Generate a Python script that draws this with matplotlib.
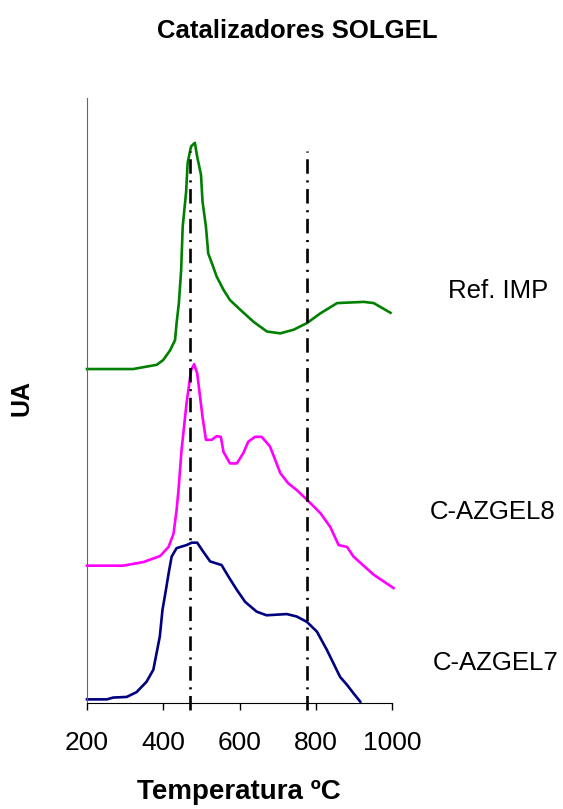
import matplotlib
matplotlib.use('Agg')
import matplotlib.pyplot as plt

plt.rcParams['font.family'] = ['Liberation Sans', 'DejaVu Sans']

# Ref. IMP (verde)
t_ref = [200, 321, 356, 383, 400, 418, 431, 435, 441, 447, 451, 460, 464, 473, 483,
         489, 499, 503, 512, 518, 531, 540, 558, 575, 602, 637, 672, 707, 742, 777,
         812, 856, 926, 952, 996]
ua_ref = [55.2, 55.2, 55.6, 55.9, 56.7, 58.3, 60.0, 62.8, 66.1, 71.6, 78.7, 84.5, 89.3, 92.0, 92.6,
          90.3, 87.3, 82.9, 78.7, 74.3, 72.1, 70.5, 68.3, 66.6, 65.0, 63.0, 61.4, 61.1, 61.7, 62.8,
          64.4, 66.1, 66.3, 66.1, 64.5]

# C-AZGEL8 (magenta)
t_gel8 = [200, 295, 348, 392, 414, 427, 435, 440, 448, 461, 473, 481, 489, 503, 512, 527,
          540, 551, 558, 575, 593, 610, 623, 641, 658, 680, 707, 728, 750, 777, 812, 838,
          860, 882, 899, 952, 1004]
ua_gel8 = [22.7, 22.7, 23.3, 24.3, 25.8, 28.0, 31.9, 35.2, 41.8, 49.5, 55.0, 56.0, 54.5, 47.3, 43.5, 43.5,
           44.1, 44.0, 41.5, 39.6, 39.6, 41.3, 43.2, 44.0, 44.0, 42.4, 38.0, 36.3, 35.2, 33.6, 31.4, 29.1,
           26.1, 25.8, 24.2, 21.2, 19.0]

# C-AZGEL7 (azul marino)
t_gel7 = [200, 252, 269, 304, 330, 356, 374, 391, 398, 407, 414, 422, 435, 461, 475, 489,
          505, 523, 553, 571, 593, 615, 645, 671, 724, 750, 777, 803, 829, 864, 882, 899, 917]
ua_gel7 = [0.6, 0.6, 0.9, 1.0, 1.8, 3.5, 5.5, 11.0, 15.4, 18.7, 21.4, 24.2, 25.6, 26.1, 26.5, 26.5,
           25.0, 23.4, 22.8, 20.9, 18.7, 16.7, 15.1, 14.5, 14.7, 14.3, 13.4, 11.8, 8.8, 4.3, 3.0, 1.6, 0.2]

picos = [470, 777]
xticks = [200, 400, 600, 800, 1000]

W, H = 563, 809
fig = plt.figure(figsize=(W / 100, H / 100), dpi=100)
ax = fig.add_axes([87 / W, 1 - 703 / H, 305 / W, 605 / H])

ax.plot(t_ref, ua_ref, color='#008000', lw=1.9, clip_on=False)
ax.plot(t_gel8, ua_gel8, color='#FF00FF', lw=1.9, clip_on=False)
ax.plot(t_gel7, ua_gel7, color='#000080', lw=1.9, clip_on=False)

for p in picos:
    ax.plot([p, p], [-1.2, 91.2], color='black', lw=1.9,
            dashes=(5.5, 2.5, 0.8, 2.5), clip_on=False)

ax.set_xlim(200, 1000)
ax.set_ylim(0, 100)
ax.set_xticks(xticks)
ax.set_yticks([])
ax.tick_params(axis='x', direction='out', length=5, width=1, pad=15, labelsize=19)
ax.spines['top'].set_visible(False)
ax.spines['right'].set_visible(False)
ax.spines['left'].set_color('#666666')
ax.spines['bottom'].set_color('black')

fig.text(297 / W, 1 - 31 / H, 'Catalizadores SOLGEL', ha='center', va='center',
         fontsize=18.5, fontweight='bold')
fig.text(239 / W, 1 - 792 / H, 'Temperatura ºC', ha='center', va='center',
         fontsize=20, fontweight='bold')
fig.text(22 / W, 1 - 398 / H, 'UA', ha='center', va='center', rotation=90,
         fontsize=18, fontweight='bold')

fig.text(448 / W, 1 - 291 / H, 'Ref. IMP', ha='left', va='center', fontsize=18.5)
fig.text(430 / W, 1 - 512 / H, 'C-AZGEL8', ha='left', va='center', fontsize=18.5)
fig.text(433 / W, 1 - 663 / H, 'C-AZGEL7', ha='left', va='center', fontsize=18.5)

fig.savefig('out.png', dpi=100)
